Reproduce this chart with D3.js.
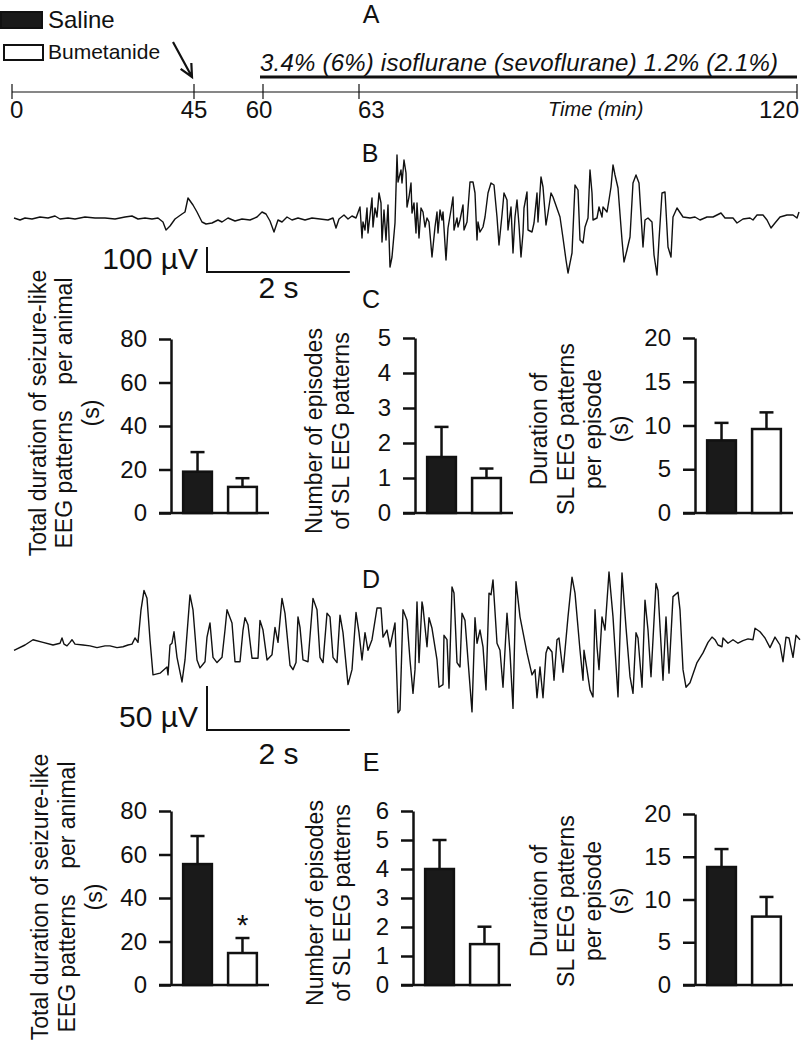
<!DOCTYPE html>
<html>
<head>
<meta charset="utf-8">
<script src="https://cdn.jsdelivr.net/npm/d3@7"></script>
<style>
body { margin: 0; background: #fff; }
svg text { font-family: "Liberation Sans", Arial, sans-serif; fill: #111; }
</style>
</head>
<body>
<svg id="fig" width="802" height="1050"></svg>
<script>
// ---- data ----
const groups = ["Saline", "Bumetanide"];
const timeTicks = [0, 45, 60, 63, 120];
const injectionTime = 45;
const anesthesia = [60, 120];
const anesthesiaLabel = "3.4% (6%) isoflurane (sevoflurane) 1.2% (2.1%)";

// C: isoflurane
const cTotalMean = [19, 12],   cTotalSem = [9, 4];
const cEpisodesMean = [1.6, 1.0], cEpisodesSem = [0.86, 0.27];
const cDurationMean = [8.3, 9.6], cDurationSem = [2.0, 1.9];
// E: sevoflurane
const eTotalMean = [55.6, 14.7], eTotalSem = [12.9, 6.9];
const eEpisodesMean = [4.0, 1.41], eEpisodesSem = [1.0, 0.6];
const eDurationMean = [13.8, 8.0], eDurationSem = [2.1, 2.3];

// EEG traces, [time ms, amplitude µV]
const traceB = [[0,0],[84,-8],[154,0],[252,-4],[364,4],[476,0],[574,8],[644,-4],[756,0],[854,-4],[994,4],[1134,0],[1274,0],[1414,-4],[1554,4],[1652,8],[1736,-4],[1834,0],[1932,-4],[2016,0],[2086,-16],[2128,-48],[2184,-32],[2254,-4],[2352,16],[2394,24],[2436,80],[2506,52],[2562,24],[2632,-16],[2688,-24],[2772,-20],[2856,-8],[2912,-16],[2996,0],[3094,-12],[3192,-4],[3304,-8],[3402,4],[3472,24],[3528,16],[3584,-12],[3640,-56],[3696,-8],[3752,-16],[3822,4],[3892,-8],[3976,0],[4074,-8],[4172,0],[4284,-4],[4396,-8],[4466,0],[4508,-40],[4550,-4],[4620,12],[4676,-4],[4732,8],[4788,0],[4844,44],[4872,-80],[4886,-16],[4914,-48],[4942,40],[4956,-60],[5012,80],[5026,-36],[5054,40],[5082,4],[5110,100],[5138,60],[5152,-96],[5180,32],[5208,-88],[5236,52],[5264,-196],[5292,-156],[5334,-20],[5362,252],[5376,144],[5418,192],[5432,140],[5460,232],[5488,180],[5502,44],[5530,84],[5558,140],[5572,20],[5600,60],[5628,-60],[5642,60],[5670,-80],[5698,40],[5726,24],[5754,-36],[5782,0],[5810,-16],[5852,-156],[5894,-36],[5922,24],[5936,-60],[5964,32],[5992,-8],[6006,24],[6048,-168],[6076,-40],[6118,32],[6146,84],[6160,-48],[6202,0],[6216,-36],[6244,-8],[6286,52],[6300,-48],[6342,-16],[6384,144],[6426,144],[6454,100],[6482,-88],[6496,-16],[6524,-56],[6566,-36],[6594,4],[6636,100],[6678,140],[6720,132],[6762,4],[6790,-108],[6832,12],[6860,100],[6902,72],[6916,-48],[6958,44],[6986,-140],[7014,4],[7042,72],[7070,-28],[7098,-156],[7126,-60],[7140,40],[7182,104],[7196,-48],[7252,-56],[7280,-20],[7322,100],[7336,-16],[7378,164],[7406,124],[7448,-28],[7476,20],[7518,100],[7546,84],[7644,4],[7686,-80],[7728,-168],[7756,-220],[7812,-140],[7854,132],[7896,112],[7924,-88],[7966,-100],[7994,-36],[8036,0],[8064,192],[8092,100],[8106,-8],[8162,0],[8190,44],[8232,4],[8246,44],[8302,24],[8330,72],[8358,124],[8386,212],[8414,172],[8456,120],[8512,-88],[8540,-176],[8582,-128],[8624,-76],[8666,140],[8708,172],[8750,140],[8806,-116],[8834,-8],[8876,0],[8932,-16],[8960,-148],[9002,-228],[9030,-88],[9072,100],[9114,104],[9156,-116],[9198,-156],[9226,4],[9282,40],[9366,4],[9464,0],[9534,4],[9604,-8],[9702,4],[9786,4],[9898,20],[9954,0],[10066,0],[10122,-20],[10206,-4],[10304,0],[10346,-8],[10402,12],[10486,12],[10542,-8],[10598,-40],[10654,-20],[10724,4],[10822,12],[10906,12],[10962,0],[10990,24]];

const traceD = [[0,-6],[154,0],[266,6],[406,3],[546,0],[644,2],[672,8],[700,1],[742,-1],[784,3],[812,6],[854,1],[966,0],[1064,-1],[1162,-3],[1274,-1],[1344,-1],[1442,-3],[1526,-2],[1596,0],[1652,1],[1694,8],[1736,3],[1778,40],[1820,62],[1862,53],[1904,6],[1946,-34],[2044,-32],[2142,-25],[2156,-34],[2184,0],[2212,2],[2240,15],[2282,-14],[2352,-42],[2394,-17],[2464,57],[2506,40],[2562,-17],[2604,-26],[2674,-19],[2702,9],[2744,25],[2786,-14],[2842,-20],[2912,-14],[2954,17],[2982,40],[3052,25],[3094,-19],[3164,-19],[3206,17],[3234,31],[3276,23],[3332,-15],[3416,-15],[3444,28],[3486,17],[3542,-17],[3612,-11],[3654,20],[3696,3],[3752,53],[3794,36],[3864,-23],[3906,-28],[3948,-20],[3976,32],[4004,20],[4046,-17],[4116,-19],[4186,53],[4242,40],[4284,-14],[4326,-20],[4382,36],[4424,32],[4466,-14],[4522,-20],[4564,34],[4606,14],[4676,-45],[4732,-28],[4788,37],[4830,14],[4872,-17],[4914,14],[4956,-6],[5012,6],[5082,42],[5138,42],[5166,9],[5222,17],[5264,-2],[5334,25],[5376,-77],[5404,-74],[5446,40],[5502,28],[5544,-17],[5586,-55],[5614,-28],[5642,49],[5670,-20],[5712,49],[5726,43],[5782,-2],[5810,31],[5852,19],[5922,-17],[5950,-48],[6006,-45],[6020,11],[6062,6],[6090,-49],[6132,66],[6160,59],[6202,-20],[6244,-25],[6272,36],[6314,28],[6356,-17],[6412,-76],[6454,31],[6482,2],[6524,17],[6566,-2],[6608,-51],[6650,59],[6678,57],[6706,74],[6762,2],[6804,-6],[6846,-48],[6902,36],[6944,-9],[6986,-72],[7028,72],[7084,32],[7182,-9],[7252,-34],[7294,-28],[7322,-60],[7364,-25],[7406,-60],[7448,-9],[7476,-2],[7532,-8],[7560,-40],[7602,6],[7630,8],[7686,-31],[7756,32],[7812,77],[7854,59],[7924,-6],[7966,-40],[7980,-6],[8022,-28],[8064,-51],[8106,-59],[8134,40],[8162,-2],[8190,-28],[8232,32],[8274,17],[8330,83],[8386,32],[8456,-59],[8512,82],[8568,20],[8624,-36],[8666,-55],[8708,14],[8736,8],[8792,-48],[8834,51],[8876,17],[8918,-36],[8988,70],[9016,62],[9086,-40],[9128,32],[9170,-32],[9226,55],[9296,60],[9324,40],[9366,-28],[9408,-48],[9464,-43],[9562,-20],[9646,-9],[9716,3],[9772,9],[9814,6],[9856,0],[9912,-2],[9926,8],[9996,2],[10066,6],[10136,2],[10206,5],[10276,7],[10346,6],[10374,19],[10444,15],[10514,8],[10584,-3],[10654,9],[10724,0],[10766,-19],[10808,9],[10850,8],[10906,-14],[10948,11],[11004,6]];

const totalLabel = ["Total duration of seizure-like", "EEG patterns    per animal", "(s)"];
const episodesLabel = ["Number of episodes", "of SL EEG patterns"];
const durationLabel = ["Duration of", "SL EEG patterns", "per episode", "(s)"];

// ---- drawing ----
const svg = d3.select("#fig");
const ink = "#111";

// panel letters
[["A", 371, 23], ["B", 370, 162], ["C", 371, 308], ["D", 371, 588], ["E", 371, 771]].forEach(d => {
    svg.append("text").attr("x", d[1]).attr("y", d[2])
        .attr("text-anchor", "middle").attr("font-size", 25).text(d[0]);
});

// legend
svg.append("rect").attr("x", 1).attr("y", 12).attr("width", 41).attr("height", 16)
    .attr("fill", "#1a1a1a").attr("stroke", ink).attr("stroke-width", 2);
svg.append("text").attr("x", 48).attr("y", 28).attr("font-size", 24).text(groups[0]);
svg.append("rect").attr("x", 4).attr("y", 45).attr("width", 39).attr("height", 15)
    .attr("fill", "#fff").attr("stroke", ink).attr("stroke-width", 2);
svg.append("text").attr("x", 48).attr("y", 59).attr("font-size", 21).text(groups[1]);

// timeline (A)
const xTime = d3.scaleLinear().domain(timeTicks).range([12, 194, 263, 359, 797]);
const lineY = 92;
svg.append("line").attr("x1", xTime(0)).attr("x2", xTime(120))
    .attr("y1", lineY).attr("y2", lineY).attr("stroke", ink).attr("stroke-width", 1.2);
const tickLabelStyle = [["start", -2], ["middle", 0], ["middle", -4], ["start", -1], ["end", 2]];
timeTicks.forEach((t, i) => {
    svg.append("line").attr("x1", xTime(t)).attr("x2", xTime(t))
        .attr("y1", lineY - 8).attr("y2", lineY + 7).attr("stroke", ink).attr("stroke-width", 1.2);
    svg.append("text").attr("x", xTime(t) + tickLabelStyle[i][1]).attr("y", 118)
        .attr("text-anchor", tickLabelStyle[i][0]).attr("font-size", 24).text(t);
});
svg.append("text").attr("x", 548).attr("y", 116).attr("font-size", 20)
    .attr("font-style", "italic").text("Time (min)");
svg.append("line").attr("x1", xTime(anesthesia[0]) - 3).attr("x2", xTime(anesthesia[1]))
    .attr("y1", 77).attr("y2", 77).attr("stroke", ink).attr("stroke-width", 3);
svg.append("text").attr("x", xTime(anesthesia[0]) - 3).attr("y", 71).attr("font-size", 24)
    .attr("font-style", "italic").attr("textLength", 518).text(anesthesiaLabel);

// injection arrow
const tip = [xTime(injectionTime) - 2, 77], tail = [173, 42];
const ang = Math.atan2(tip[1] - tail[1], tip[0] - tail[0]);
const wing = (a) => [tip[0] - 14 * Math.cos(ang + a), tip[1] - 14 * Math.sin(ang + a)];
svg.append("path")
    .attr("d", `M${tail}L${tip}M${wing(0.45)}L${tip}L${wing(-0.45)}`)
    .attr("fill", "none").attr("stroke", ink).attr("stroke-width", 2.2);

// EEG traces
function drawTrace(data, yBase, pxPerUv, bar) {
    const x = d3.scaleLinear().domain([0, 11004]).range([14, 800]);
    const y = d3.scaleLinear().domain([0, 100]).range([yBase, yBase - 100 * pxPerUv]);
    svg.append("path").datum(data)
        .attr("d", d3.line().x(d => x(d[0])).y(d => y(d[1])))
        .attr("fill", "none").attr("stroke", ink).attr("stroke-width", 1.4)
        .attr("stroke-linejoin", "round");
    // scale bar
    const bx = 207, by = bar.y;
    const h = y(0) - y(bar.uv), w = x(2000) - x(0);
    svg.append("path").attr("d", `M${bx},${by - h}L${bx},${by}L${bx + w},${by}`)
        .attr("fill", "none").attr("stroke", ink).attr("stroke-width", 2);
    svg.append("text").attr("x", 198).attr("y", bar.labelY).attr("text-anchor", "end")
        .attr("font-size", 30).text(bar.uv + " µV");
    svg.append("text").attr("x", bx + w / 2).attr("y", bar.timeY).attr("text-anchor", "middle")
        .attr("font-size", 30).text("2 s");
}
drawTrace(traceB, 218, 0.25, { uv: 100, y: 272, labelY: 269, timeY: 298 });
drawTrace(traceD, 645, 0.88, { uv: 50, y: 730, labelY: 727, timeY: 764 });

// bar charts
const barPanels = [
    { mean: cTotalMean, sem: cTotalSem, max: 80, step: 20, ax: 171, y0: 513, yTop: 339,
      label: totalLabel, cy: 413, lx: [46, 72, 99] },
    { mean: cEpisodesMean, sem: cEpisodesSem, max: 5, step: 1, ax: 415, y0: 513, yTop: 338,
      label: episodesLabel, cy: 431, lx: [322, 349] },
    { mean: cDurationMean, sem: cDurationSem, max: 20, step: 5, ax: 695, y0: 513, yTop: 338,
      label: durationLabel, cy: 429, lx: [547, 574, 601, 628] },
    { mean: eTotalMean, sem: eTotalSem, max: 80, step: 20, ax: 171, y0: 985, yTop: 811,
      label: totalLabel, cy: 897, lx: [48, 75, 102], star: 1 },
    { mean: eEpisodesMean, sem: eEpisodesSem, max: 6, step: 1, ax: 413, y0: 985, yTop: 811,
      label: episodesLabel, cy: 903, lx: [323, 350] },
    { mean: eDurationMean, sem: eDurationSem, max: 20, step: 5, ax: 695, y0: 985, yTop: 814,
      label: durationLabel, cy: 901, lx: [547, 574, 601, 628] }
];

barPanels.forEach(p => {
    const g = svg.append("g");
    const y = d3.scaleLinear().domain([0, p.max]).range([p.y0, p.yTop]);
    const x = d3.scaleBand().domain(groups).range([p.ax, p.ax + 98])
        .paddingInner(0.36).paddingOuter(0.27);

    const axis = g.append("g").attr("transform", `translate(${p.ax},0)`)
        .call(d3.axisLeft(y).tickValues(d3.range(0, p.max + p.step / 2, p.step))
            .tickFormat(d3.format("d"))
            .tickSize(12).tickSizeOuter(0).tickPadding(12));
    axis.selectAll("path, line").attr("stroke", ink).attr("stroke-width", 2.5);
    axis.selectAll("text").attr("font-size", 24).attr("font-family", null).attr("fill", ink);

    g.append("line").attr("x1", p.ax - 12).attr("x2", p.ax + 98)
        .attr("y1", p.y0).attr("y2", p.y0).attr("stroke", ink).attr("stroke-width", 2.5);

    groups.forEach((grp, i) => {
        const cx = x(grp) + x.bandwidth() / 2;
        const top = y(p.mean[i] + p.sem[i]);
        g.append("line").attr("x1", cx).attr("x2", cx).attr("y1", y(p.mean[i])).attr("y2", top)
            .attr("stroke", ink).attr("stroke-width", 2.5);
        g.append("line").attr("x1", cx - 7).attr("x2", cx + 7).attr("y1", top).attr("y2", top)
            .attr("stroke", ink).attr("stroke-width", 2.5);
        g.append("rect").attr("x", x(grp)).attr("width", x.bandwidth())
            .attr("y", y(p.mean[i])).attr("height", p.y0 - y(p.mean[i]))
            .attr("fill", i === 0 ? "#1a1a1a" : "#fff")
            .attr("stroke", ink).attr("stroke-width", 2.5);
        if (p.star === i) {
            g.append("text").attr("x", cx).attr("y", top - 3).attr("text-anchor", "middle")
                .attr("font-size", 30).text("*");
        }
    });

    const lab = g.append("g").attr("transform", `translate(0,${p.cy}) rotate(-90)`);
    p.label.forEach((line, i) => {
        lab.append("text").attr("x", 0).attr("y", p.lx[i]).attr("text-anchor", "middle")
            .attr("font-size", 23).style("white-space", "pre").text(line);
    });
});
</script>
</body>
</html>
